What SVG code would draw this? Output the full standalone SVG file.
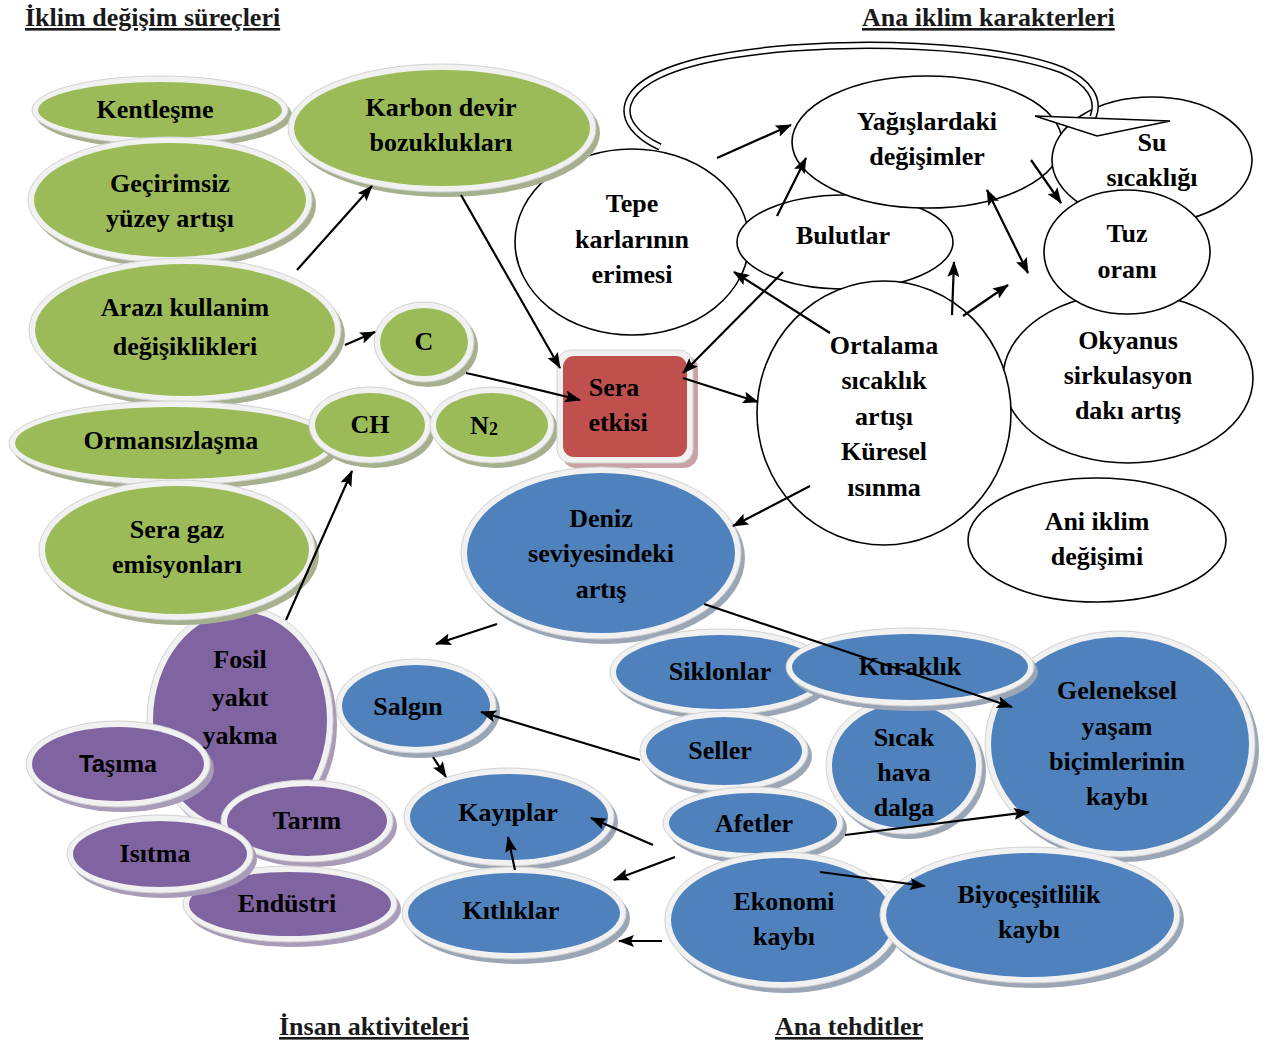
<svg xmlns="http://www.w3.org/2000/svg" width="1267" height="1045" viewBox="0 0 1267 1045">
<defs>
<marker id="ah" markerUnits="userSpaceOnUse" markerWidth="16" markerHeight="12" refX="15" refY="6" orient="auto">
<path d="M0,0 L16,6 L0,12 L3,6 z" fill="#000"/>
</marker>
<marker id="ahs" markerUnits="userSpaceOnUse" markerWidth="16" markerHeight="12" refX="1" refY="6" orient="auto">
<path d="M16,0 L0,6 L16,12 L13,6 z" fill="#000"/>
</marker>
</defs>
<style>
.t{font-family:"Liberation Serif","Times New Roman",serif;font-weight:bold;font-size:26px;text-anchor:middle;fill:#000}
.h{font-family:"Liberation Serif","Times New Roman",serif;font-weight:bold;font-size:26px;fill:#1a1a1a;text-decoration:underline}
.sans{font-family:"Liberation Sans",Arial,sans-serif}
.w{fill:#fff;stroke:#000;stroke-width:1.6}
.rim{fill:#F1F1F1;stroke:#D2D2D2;stroke-width:1}
.green .f{fill:#9BBB59}.green .s{fill:#A7B08E}
.blue .f{fill:#4F81BD}.blue .s{fill:#9AA6B6}
.purple .f{fill:#8064A2}.purple .s{fill:#A99CB8}
.red .f{fill:#C0504D}.red .s{fill:#C9A3A3}
.c{fill:none;stroke:#000;stroke-width:2.2}
</style>

<g id="headers">
<text class="h" x="25" y="26">İklim değişim süreçleri</text>
<text class="h" x="862" y="26">Ana iklim karakterleri</text>
<text class="h" x="279" y="1035">İnsan aktiviteleri</text>
<text class="h" x="775" y="1035">Ana tehditler</text>
</g>

<g id="n-tepe"><ellipse class="w" cx="632" cy="242" rx="117" ry="93"/>
<text class="t" x="632" y="212">Tepe</text><text class="t" x="632" y="248">karlarının</text><text class="t" x="632" y="283">erimesi</text></g>
<g id="n-bulutlar"><ellipse class="w" cx="845" cy="242" rx="108" ry="47"/>
<text class="t" x="843" y="244">Bulutlar</text></g>
<g id="n-yagis"><ellipse class="w" cx="927" cy="142" rx="135" ry="66"/>
<text class="t" x="927" y="130">Yağışlardaki</text><text class="t" x="927" y="165">değişimler</text></g>
<g id="n-su"><ellipse class="w" cx="1152" cy="160" rx="100" ry="63"/>
<text class="t" x="1152" y="151">Su</text><text class="t" x="1152" y="186">sıcaklığı</text></g>
<g id="n-okyanus"><ellipse class="w" cx="1128" cy="378" rx="125" ry="85"/>
<text class="t" x="1128" y="349">Okyanus</text><text class="t" x="1128" y="384">sirkulasyon</text><text class="t" x="1128" y="419">dakı artış</text></g>
<g id="n-tuz"><ellipse class="w" cx="1127" cy="252" rx="83" ry="62"/>
<text class="t" x="1127" y="242">Tuz</text><text class="t" x="1127" y="278">oranı</text></g>
<g id="n-ortalama"><ellipse class="w" cx="884" cy="413" rx="127" ry="132"/>
<text class="t" x="884" y="354">Ortalama</text><text class="t" x="884" y="389">sıcaklık</text><text class="t" x="884" y="425">artışı</text><text class="t" x="884" y="460">Küresel</text><text class="t" x="884" y="496">ısınma</text></g>
<g id="n-ani"><ellipse class="w" cx="1097" cy="540" rx="129" ry="62"/>
<text class="t" x="1097" y="530">Ani iklim</text><text class="t" x="1097" y="565">değişimi</text></g>

<g id="n-fosil" class="purple"><ellipse class="s" cx="244" cy="725" rx="93" ry="114"/><ellipse class="rim" cx="240" cy="720" rx="93" ry="114"/><ellipse class="f" cx="240" cy="720" rx="87" ry="108"/>
<text class="t" x="240" y="668">Fosil</text><text class="t" x="240" y="706">yakıt</text><text class="t" x="240" y="744">yakma</text></g>

<g id="n-kentlesme" class="green"><ellipse class="s" cx="164" cy="115" rx="128" ry="34"/><ellipse class="rim" cx="160" cy="110" rx="128" ry="34"/><ellipse class="f" cx="160" cy="110" rx="122" ry="28"/>
<text class="t" x="155" y="118">Kentleşme</text></g>
<g id="n-karbon" class="green"><ellipse class="s" cx="446" cy="133" rx="154" ry="64"/><ellipse class="rim" cx="442" cy="128" rx="154" ry="64"/><ellipse class="f" cx="442" cy="128" rx="148" ry="58"/>
<text class="t" x="441" y="116">Karbon devir</text><text class="t" x="441" y="151">bozuklukları</text></g>
<g id="n-gecirimsiz" class="green"><ellipse class="s" cx="174" cy="205" rx="142" ry="63"/><ellipse class="rim" cx="170" cy="200" rx="142" ry="63"/><ellipse class="f" cx="170" cy="200" rx="136" ry="57"/>
<text class="t" x="170" y="192">Geçirimsiz</text><text class="t" x="170" y="227">yüzey artışı</text></g>
<g id="n-arazi" class="green"><ellipse class="s" cx="189" cy="335" rx="156" ry="72"/><ellipse class="rim" cx="185" cy="330" rx="156" ry="72"/><ellipse class="f" cx="185" cy="330" rx="150" ry="66"/>
<text class="t" x="185" y="316">Arazı kullanim</text><text class="t" x="185" y="355">değişiklikleri</text></g>
<g id="n-ormansizlasma" class="green"><ellipse class="s" cx="176" cy="448" rx="163" ry="42"/><ellipse class="rim" cx="172" cy="443" rx="163" ry="42"/><ellipse class="f" cx="172" cy="443" rx="157" ry="36"/>
<text class="t" x="171" y="449">Ormansızlaşma</text></g>
<g id="n-seragaz" class="green"><ellipse class="s" cx="181" cy="555" rx="138" ry="70"/><ellipse class="rim" cx="177" cy="550" rx="138" ry="70"/><ellipse class="f" cx="177" cy="550" rx="132" ry="64"/>
<text class="t" x="177" y="538">Sera gaz</text><text class="t" x="177" y="573">emisyonları</text></g>
<g id="n-c" class="green"><ellipse class="s" cx="428" cy="347" rx="50" ry="40"/><ellipse class="rim" cx="424" cy="342" rx="50" ry="40"/><ellipse class="f" cx="424" cy="342" rx="44" ry="34"/>
<text class="t" x="424" y="350">C</text></g>
<g id="n-ch" class="green"><ellipse class="s" cx="374" cy="430" rx="61" ry="38"/><ellipse class="rim" cx="370" cy="425" rx="61" ry="38"/><ellipse class="f" cx="370" cy="425" rx="55" ry="32"/>
<text class="t" x="370" y="433">CH</text></g>
<g id="n-n2" class="green"><ellipse class="s" cx="496" cy="430" rx="62" ry="38"/><ellipse class="rim" cx="492" cy="425" rx="62" ry="38"/><ellipse class="f" cx="492" cy="425" rx="56" ry="32"/>
<text class="t" x="484" y="434">N<tspan font-size="18" dy="1">2</tspan></text></g>

<g id="n-seraetkisi" class="red"><rect class="s" x="562" y="355" width="136" height="113" rx="14"/><rect class="rim" x="557" y="350" width="136" height="113" rx="14"/><rect class="f" x="563" y="356" width="124" height="101" rx="11"/>
<text class="t" x="614" y="396">Sera</text><text class="t" x="618" y="431">etkisi</text></g>

<g id="n-deniz" class="blue"><ellipse class="s" cx="605" cy="558" rx="140" ry="86"/><ellipse class="rim" cx="601" cy="553" rx="140" ry="86"/><ellipse class="f" cx="601" cy="553" rx="134" ry="80"/>
<text class="t" x="601" y="527">Deniz</text><text class="t" x="601" y="562">seviyesindeki</text><text class="t" x="601" y="598">artış</text></g>
<g id="n-siklonlar" class="blue"><ellipse class="s" cx="724" cy="677" rx="110" ry="43"/><ellipse class="rim" cx="720" cy="672" rx="110" ry="43"/><ellipse class="f" cx="720" cy="672" rx="104" ry="37"/>
<text class="t" x="720" y="680">Siklonlar</text></g>
<g id="n-sicak" class="blue"><ellipse class="s" cx="908" cy="771" rx="78" ry="68"/><ellipse class="rim" cx="904" cy="766" rx="78" ry="68"/><ellipse class="f" cx="904" cy="766" rx="72" ry="62"/>
<text class="t" x="904" y="746">Sıcak</text><text class="t" x="904" y="781">hava</text><text class="t" x="904" y="816">dalga</text></g>
<g id="n-geleneksel" class="blue"><ellipse class="s" cx="1124" cy="749" rx="135" ry="113"/><ellipse class="rim" cx="1120" cy="744" rx="135" ry="113"/><ellipse class="f" cx="1120" cy="744" rx="129" ry="107"/>
<text class="t" x="1117" y="699">Geleneksel</text><text class="t" x="1117" y="735">yaşam</text><text class="t" x="1117" y="770">biçimlerinin</text><text class="t" x="1117" y="805">kaybı</text></g>
<g id="n-kuraklik" class="blue"><ellipse class="s" cx="914" cy="672" rx="124" ry="39"/><ellipse class="rim" cx="910" cy="667" rx="124" ry="39"/><ellipse class="f" cx="910" cy="667" rx="118" ry="33"/>
<text class="t" x="910" y="675">Kuraklık</text></g>
<g id="n-seller" class="blue"><ellipse class="s" cx="728" cy="756" rx="84" ry="40"/><ellipse class="rim" cx="724" cy="751" rx="84" ry="40"/><ellipse class="f" cx="724" cy="751" rx="78" ry="34"/>
<text class="t" x="720" y="759">Seller</text></g>
<g id="n-afetler" class="blue"><ellipse class="s" cx="757" cy="828" rx="90" ry="36"/><ellipse class="rim" cx="753" cy="823" rx="90" ry="36"/><ellipse class="f" cx="753" cy="823" rx="84" ry="30"/>
<text class="t" x="754" y="832">Afetler</text></g>
<g id="n-ekonomi" class="blue"><ellipse class="s" cx="786" cy="925" rx="117" ry="68"/><ellipse class="rim" cx="782" cy="920" rx="117" ry="68"/><ellipse class="f" cx="782" cy="920" rx="111" ry="62"/>
<text class="t" x="784" y="910">Ekonomi</text><text class="t" x="784" y="945">kaybı</text></g>
<g id="n-biyo" class="blue"><ellipse class="s" cx="1034" cy="920" rx="150" ry="68"/><ellipse class="rim" cx="1030" cy="915" rx="150" ry="68"/><ellipse class="f" cx="1030" cy="915" rx="144" ry="62"/>
<text class="t" x="1029" y="903">Biyoçeşitlilik</text><text class="t" x="1029" y="938">kaybı</text></g>
<g id="n-salgin" class="blue"><ellipse class="s" cx="420" cy="711" rx="80" ry="47"/><ellipse class="rim" cx="416" cy="706" rx="80" ry="47"/><ellipse class="f" cx="416" cy="706" rx="74" ry="41"/>
<text class="t" x="408" y="715">Salgın</text></g>
<g id="n-kayiplar" class="blue"><ellipse class="s" cx="513" cy="822" rx="105" ry="49"/><ellipse class="rim" cx="509" cy="817" rx="105" ry="49"/><ellipse class="f" cx="509" cy="817" rx="99" ry="43"/>
<text class="t" x="508" y="821">Kayıplar</text></g>
<g id="n-kitliklar" class="blue"><ellipse class="s" cx="518" cy="918" rx="112" ry="46"/><ellipse class="rim" cx="514" cy="913" rx="112" ry="46"/><ellipse class="f" cx="514" cy="913" rx="106" ry="40"/>
<text class="t" x="511" y="919">Kıtlıklar</text></g>

<g id="n-tasima" class="purple"><ellipse class="s" cx="122" cy="769" rx="92" ry="43"/><ellipse class="rim" cx="118" cy="764" rx="92" ry="43"/><ellipse class="f" cx="118" cy="764" rx="86" ry="37"/>
<text class="t" x="118" y="772"><tspan class="sans" font-size="24">Ta</tspan>şıma</text></g>
<g id="n-tarim" class="purple"><ellipse class="s" cx="311" cy="826" rx="86" ry="41"/><ellipse class="rim" cx="307" cy="821" rx="86" ry="41"/><ellipse class="f" cx="307" cy="821" rx="80" ry="35"/>
<text class="t" x="307" y="829">Tarım</text></g>
<g id="n-endustri" class="purple"><ellipse class="s" cx="294" cy="909" rx="107" ry="38"/><ellipse class="rim" cx="290" cy="904" rx="107" ry="38"/><ellipse class="f" cx="290" cy="904" rx="101" ry="32"/>
<text class="t" x="287" y="912">Endüstri</text></g>
<g id="n-isitma" class="purple"><ellipse class="s" cx="164" cy="859" rx="93" ry="39"/><ellipse class="rim" cx="160" cy="854" rx="93" ry="39"/><ellipse class="f" cx="160" cy="854" rx="87" ry="33"/>
<text class="t" x="155" y="862">Isıtma</text></g>

<g id="connectors">
<path d="M660,147 C612,125 608,82 705,60 C805,38 985,40 1062,70 C1090,82 1100,100 1093,117" fill="none" stroke="#000" stroke-width="7.5"/>
<path d="M660,147 C612,125 608,82 705,60 C805,38 985,40 1062,70 C1090,82 1100,100 1093,117" fill="none" stroke="#fff" stroke-width="4.5"/>
<polygon points="1035,116 1170,121 1097,136" fill="#fff" stroke="#000" stroke-width="1.5" stroke-linejoin="miter"/>
<line class="c" x1="297" y1="270" x2="372" y2="186" marker-end="url(#ah)"/>
<line class="c" x1="461" y1="195" x2="560" y2="368" marker-end="url(#ah)"/>
<line class="c" x1="345" y1="345" x2="375" y2="332" marker-end="url(#ah)"/>
<path class="c" d="M466,373 Q520,385 580,400" marker-end="url(#ah)"/>
<line class="c" x1="286" y1="620" x2="352" y2="471" marker-end="url(#ah)"/>
<line class="c" x1="783" y1="272" x2="683" y2="373" marker-end="url(#ah)"/>
<line class="c" x1="683" y1="378" x2="758" y2="402" marker-end="url(#ah)"/>
<line class="c" x1="830" y1="333" x2="734" y2="272" marker-end="url(#ah)"/>
<line class="c" x1="717" y1="158" x2="791" y2="125" marker-end="url(#ah)"/>
<line class="c" x1="777" y1="216" x2="806" y2="158" marker-end="url(#ah)"/>
<line class="c" x1="987" y1="190" x2="1028" y2="273" marker-start="url(#ahs)" marker-end="url(#ah)"/>
<line class="c" x1="1031" y1="160" x2="1061" y2="203" marker-end="url(#ah)"/>
<line class="c" x1="952" y1="315" x2="954" y2="262" marker-end="url(#ah)"/>
<line class="c" x1="963" y1="316" x2="1008" y2="285" marker-end="url(#ah)"/>
<line class="c" x1="810" y1="486" x2="733" y2="526" marker-end="url(#ah)"/>
<line class="c" x1="497" y1="624" x2="436" y2="644" marker-end="url(#ah)"/>
<line class="c" x1="704" y1="604" x2="1012" y2="707" marker-end="url(#ah)"/>
<line class="c" x1="640" y1="760" x2="481" y2="712" marker-end="url(#ah)"/>
<line class="c" x1="433" y1="757" x2="446" y2="777" marker-end="url(#ah)"/>
<line class="c" x1="515" y1="870" x2="508" y2="837" marker-end="url(#ah)"/>
<line class="c" x1="653" y1="845" x2="591" y2="818" marker-end="url(#ah)"/>
<line class="c" x1="675" y1="857" x2="614" y2="880" marker-end="url(#ah)"/>
<line class="c" x1="662" y1="941" x2="619" y2="941" marker-end="url(#ah)"/>
<line class="c" x1="845" y1="835" x2="1029" y2="812" marker-end="url(#ah)"/>
<line class="c" x1="820" y1="872" x2="925" y2="886" marker-end="url(#ah)"/>
</g>
</svg>
